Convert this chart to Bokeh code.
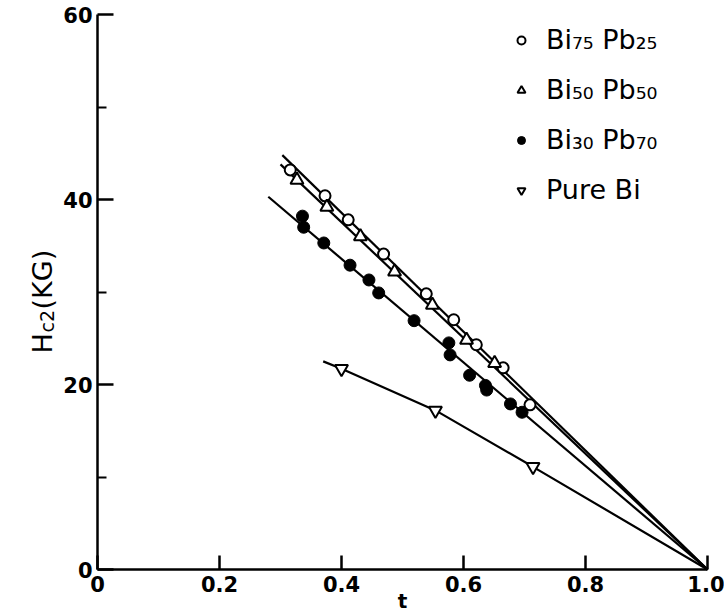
from bokeh.plotting import figure
from bokeh.models import Legend, LegendItem, Label, FixedTicker
from bokeh.embed import file_html
from bokeh.resources import INLINE
import math

# ---- data ----
t_bi75 = [0.316, 0.373, 0.411, 0.469, 0.539, 0.584, 0.621, 0.665, 0.709]
h_bi75 = [43.2, 40.4, 37.8, 34.1, 29.8, 27.0, 24.3, 21.8, 17.8]

t_bi50 = [0.327, 0.376, 0.431, 0.487, 0.549, 0.605, 0.651]
h_bi50 = [42.1, 39.2, 36.0, 32.2, 28.6, 24.8, 22.3]

t_bi30 = [0.336, 0.338, 0.371, 0.414, 0.445, 0.461, 0.519, 0.576, 0.578, 0.610, 0.636, 0.638, 0.677, 0.696]
h_bi30 = [38.2, 37.0, 35.3, 32.9, 31.3, 29.9, 26.9, 24.5, 23.2, 21.0, 19.9, 19.4, 17.9, 17.0]

t_bi = [0.400, 0.554, 0.714]
h_bi = [21.7, 17.2, 11.1]

# drawn curves
fit75_t = [0.303, 1.0]
fit75_h = [44.8, 0.0]
fit50_t = [0.300, 1.0]
fit50_h = [43.8, 0.0]
fit30_t = [0.280, 1.0]
fit30_h = [40.3, 0.0]
fitbi_t = [0.370, 0.400, 0.554, 0.714, 1.0]
fitbi_h = [22.5, 21.7, 17.2, 11.1, 0.0]

x_ticks = [0, 0.2, 0.4, 0.6, 0.8, 1.0]
x_tick_labels = ["0", "0.2", "0.4", "0.6", "0.8", "1.0"]
y_ticks = [0, 20, 40, 60]
y_minor = [10, 30, 50]

labels = ["Bi\u2087\u2085 Pb\u2082\u2085", "Bi\u2085\u2080 Pb\u2085\u2080",
          "Bi\u2083\u2080 Pb\u2087\u2080", "Pure Bi"]

FONT = "DejaVu Sans"

# layout: t=0 at x=97px, t=1 at x=707px; H=0 at y=569px, H=60 at y=14px
W, H = 724, 616
X0, X1, Y0, Y60 = 97, 707, 569, 14
sx = (X1 - X0) / 1.0
sy = (Y0 - Y60) / 60.0
x_range = (-X0 / sx, 1.0 + (W - X1) / sx)
y_range = (-(H - Y0) / sy, 60 + Y60 / sy)

p = figure(width=W, height=H, output_backend="svg", toolbar_location=None,
           x_range=x_range, y_range=y_range,
           min_border_left=0, min_border_right=0, min_border_top=0, min_border_bottom=0)
p.outline_line_color = None
p.xgrid.visible = False
p.ygrid.visible = False
p.title.text = ""

# lines
for tx, hy in [(fit75_t, fit75_h), (fit50_t, fit50_h), (fit30_t, fit30_h), (fitbi_t, fitbi_h)]:
    p.line(tx, hy, line_color="black", line_width=2.2)

# points
r1 = p.scatter(t_bi75, h_bi75, marker="circle", size=11, fill_color="white", line_color="black", line_width=2)
r2 = p.scatter(t_bi50, h_bi50, marker="triangle", size=13, fill_color="white", line_color="black", line_width=2)
r3 = p.scatter(t_bi30, h_bi30, marker="circle", size=12, fill_color="black", line_color="black", line_width=1)
r4 = p.scatter(t_bi, h_bi, marker="inverted_triangle", size=13, fill_color="white", line_color="black", line_width=2)

legend = Legend(items=[LegendItem(label=labels[0], renderers=[r1]),
                       LegendItem(label=labels[1], renderers=[r2]),
                       LegendItem(label=labels[2], renderers=[r3]),
                       LegendItem(label=labels[3], renderers=[r4])],
                location=(511, 411), border_line_color=None, background_fill_alpha=0,
                padding=0, margin=0, spacing=19, glyph_width=20, glyph_height=30,
                label_height=30, label_standoff=15, label_text_font_size="27px",
                label_text_font=FONT, label_text_color="black", label_text_baseline="middle")
p.add_layout(legend)

# axes drawn at fixed data locations inside the frame
for ax in (p.xaxis[0], p.yaxis[0]):
    ax.fixed_location = 0
    ax.axis_line_width = 2.5
    ax.axis_line_color = "black"
    ax.major_tick_line_width = 2.5
    ax.major_tick_line_color = "black"
    ax.major_tick_out = 0
    ax.minor_tick_out = 0
    ax.major_label_text_font = FONT
    ax.major_label_text_font_style = "bold"
    ax.major_label_text_font_size = "21px"
    ax.major_label_text_color = "black"

p.xaxis.bounds = (0, 1.0)
p.yaxis.bounds = (0, 60)

p.xaxis.ticker = FixedTicker(ticks=x_ticks)
p.xaxis.major_label_overrides = {v: s for v, s in zip(x_ticks, x_tick_labels)}
p.xaxis.major_tick_in = 14
p.xaxis.minor_tick_line_color = None
p.xaxis.major_label_standoff = 6

p.yaxis.ticker = FixedTicker(ticks=y_ticks, minor_ticks=y_minor)
p.yaxis.major_tick_in = 16
p.yaxis.minor_tick_in = 9
p.yaxis.minor_tick_line_width = 2.2
p.yaxis.minor_tick_line_color = "black"
p.yaxis.major_label_standoff = 5

# axis titles (screen units from the frame's bottom-left; frame = whole canvas)
common = dict(x_units="screen", y_units="screen", text_font=FONT, text_color="black")
p.add_layout(Label(x=42, y=263, text="H", angle=math.pi / 2, text_align="left",
                   text_baseline="alphabetic", text_font_size="27px", **common))
p.add_layout(Label(x=46, y=284, text="c2", angle=math.pi / 2, text_align="left",
                   text_baseline="alphabetic", text_font_size="19px", **common))
p.add_layout(Label(x=42, y=307, text="(KG)", angle=math.pi / 2, text_align="left",
                   text_baseline="alphabetic", text_font_size="27px", **common))
p.add_layout(Label(x=402, y=16, text="t", text_align="center", text_baseline="middle",
                   text_font_style="bold", text_font_size="20px", **common))

open("out.html", "w").write(file_html(p, INLINE))
